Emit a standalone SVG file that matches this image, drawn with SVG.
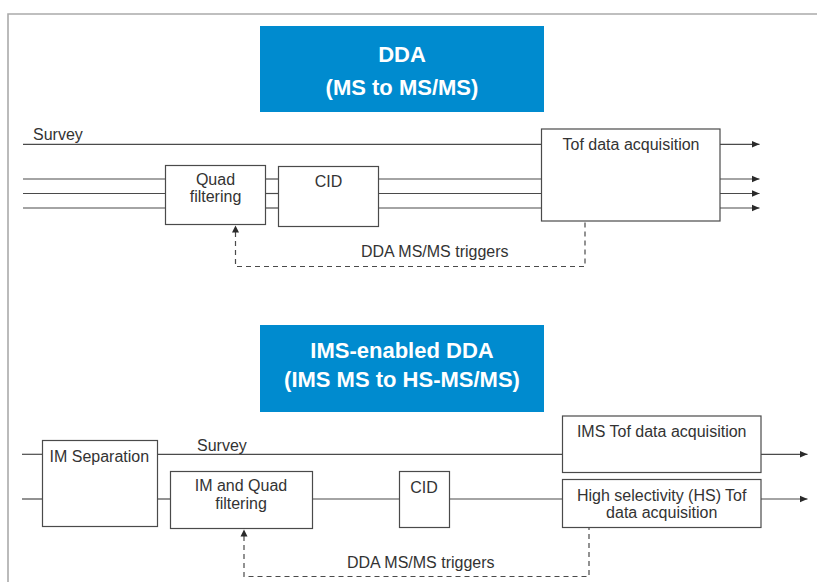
<svg xmlns="http://www.w3.org/2000/svg" width="817" height="582" viewBox="0 0 817 582">
<style>
.frame{fill:none;stroke:#ababab;stroke-width:1.6}
.box{fill:#fff;stroke:#4a4a4a;stroke-width:1.2}
.ln{fill:none;stroke:#4a4a4a;stroke-width:1.2}
.dash{fill:none;stroke:#4a4a4a;stroke-width:1.2;stroke-dasharray:5,4}
.ah{fill:#2a2a2a}
.t{font-family:"Liberation Sans",Arial,sans-serif;font-size:16px;fill:#333}
.c{text-anchor:middle}
.hdr{fill:#008bcf}
.ht{font-family:"Liberation Sans",Arial,sans-serif;font-size:22px;font-weight:bold;fill:#fff;text-anchor:middle}
</style>
<defs>
<marker id="arr" markerWidth="9" markerHeight="8" refX="8" refY="4" orient="auto" markerUnits="userSpaceOnUse">
<path d="M0,0.5 L8,4 L0,7.5 Z" fill="#2a2a2a"/>
</marker>
</defs>
<rect width="817" height="582" fill="#fff"/>
<path class="frame" d="M8,590 V14 H830"/>

<g id="hdr-dda">
<rect class="hdr" x="260" y="26" width="284" height="86"/>
<text class="ht" x="402" y="62">DDA</text>
<text class="ht" x="402" y="95">(MS to MS/MS)</text>
</g>

<g id="connectors">
<!-- DDA section -->
<line class="ln" x1="23" y1="144.3" x2="541.5" y2="144.3"/>
<line class="ln" x1="23" y1="179" x2="165.5" y2="179"/>
<line class="ln" x1="23" y1="193.5" x2="165.5" y2="193.5"/>
<line class="ln" x1="23" y1="208" x2="165.5" y2="208"/>
<line class="ln" x1="265.5" y1="179" x2="278.5" y2="179"/>
<line class="ln" x1="265.5" y1="193.5" x2="278.5" y2="193.5"/>
<line class="ln" x1="265.5" y1="208" x2="278.5" y2="208"/>
<line class="ln" x1="378.5" y1="179" x2="541.5" y2="179"/>
<line class="ln" x1="378.5" y1="193.5" x2="541.5" y2="193.5"/>
<line class="ln" x1="378.5" y1="208" x2="541.5" y2="208"/>
<line class="ln" x1="720" y1="144.3" x2="759.5" y2="144.3" marker-end="url(#arr)"/>
<line class="ln" x1="720" y1="179" x2="759.5" y2="179" marker-end="url(#arr)"/>
<line class="ln" x1="720" y1="193.5" x2="759.5" y2="193.5" marker-end="url(#arr)"/>
<line class="ln" x1="720" y1="208" x2="759.5" y2="208" marker-end="url(#arr)"/>
<path class="dash" d="M235.5,232 V266.5 H585 V221"/>
<path class="ah" d="M235.5,225.5 L239,232.5 L232,232.5 Z"/>
<!-- IMS section -->
<line class="ln" x1="22" y1="454.3" x2="42.5" y2="454.3"/>
<line class="ln" x1="22" y1="499" x2="42.5" y2="499"/>
<line class="ln" x1="157.5" y1="454.3" x2="562.5" y2="454.3"/>
<line class="ln" x1="157.5" y1="499" x2="170.5" y2="499"/>
<line class="ln" x1="312.5" y1="499" x2="399.5" y2="499"/>
<line class="ln" x1="449.5" y1="499" x2="562.5" y2="499"/>
<line class="ln" x1="761" y1="454.3" x2="807.5" y2="454.3" marker-end="url(#arr)"/>
<line class="ln" x1="761" y1="499" x2="807.5" y2="499" marker-end="url(#arr)"/>
<path class="dash" d="M244,536 V576.5 H589 V527.5"/>
<path class="ah" d="M244,529.5 L247.5,536.5 L240.5,536.5 Z"/>
</g>

<text class="t" x="33" y="140">Survey</text>
<text class="t" x="361" y="257">DDA MS/MS triggers</text>

<g id="quad">
<rect class="box" x="165.5" y="165.5" width="100" height="59"/>
<text class="t c" x="215.5" y="185">Quad</text>
<text class="t c" x="215.5" y="202">filtering</text>
</g>
<g id="cid">
<rect class="box" x="278.5" y="166.5" width="100" height="60"/>
<text class="t c" x="328.5" y="187">CID</text>
</g>
<g id="tof">
<rect class="box" x="541.5" y="129" width="178.5" height="92"/>
<text class="t c" x="631" y="150">Tof data acquisition</text>
</g>

<g id="hdr-ims">
<rect class="hdr" x="260" y="325" width="284" height="87"/>
<text class="ht" x="402" y="358">IMS-enabled DDA</text>
<text class="ht" x="402" y="387">(IMS MS to HS-MS/MS)</text>
</g>

<text class="t" x="197" y="451">Survey</text>
<text class="t" x="347" y="568">DDA MS/MS triggers</text>

<g id="imsep">
<rect class="box" x="42.5" y="440.5" width="115" height="86"/>
<text class="t" x="49.5" y="462">IM Separation</text>
</g>
<g id="imquad">
<rect class="box" x="170.5" y="471.5" width="142" height="57"/>
<text class="t c" x="241" y="491">IM and Quad</text>
<text class="t c" x="241" y="509">filtering</text>
</g>
<g id="cid2">
<rect class="box" x="399.5" y="471.5" width="50" height="56"/>
<text class="t c" x="424" y="493">CID</text>
</g>
<g id="imstof">
<rect class="box" x="562.5" y="416" width="198.5" height="56.5"/>
<text class="t c" x="661.7" y="437">IMS Tof data acquisition</text>
</g>
<g id="hstof">
<rect class="box" x="562.5" y="479.5" width="198.5" height="48"/>
<text class="t c" x="661.7" y="501">High selectivity (HS) Tof</text>
<text class="t c" x="661.7" y="518">data acquisition</text>
</g>
</svg>
